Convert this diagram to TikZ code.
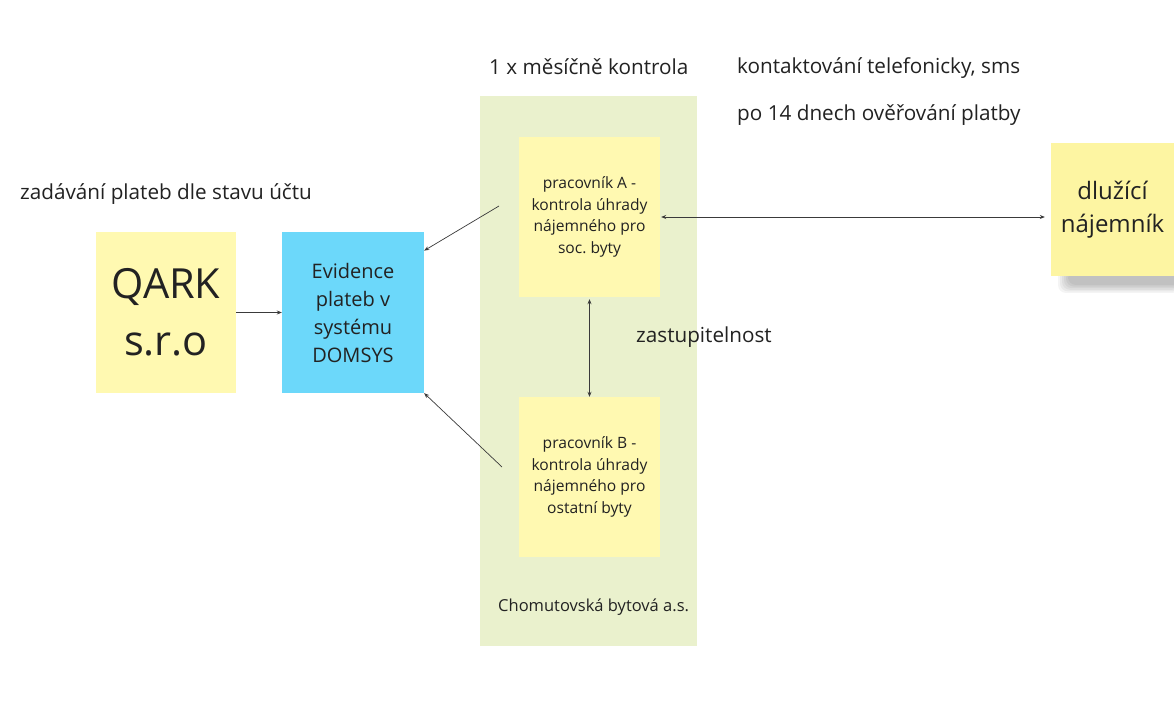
\documentclass[tikz,border=0pt]{standalone}
\usepackage{fontspec}
\setmainfont{Open Sans}
\usepackage{tikz}
\usetikzlibrary{arrows.meta}

\definecolor{stickyyellow}{HTML}{FFF9B1}
\definecolor{debtyellow}{HTML}{FDF5A2}
\definecolor{domsysblue}{HTML}{6CD8FA}
\definecolor{frmgreen}{HTML}{EAF1CD}
\definecolor{inktext}{HTML}{222222}
\definecolor{inkline}{HTML}{3A3A3A}
\frenchspacing

\begin{document}
\begin{tikzpicture}[x=1pt,y=-1pt,
    every node/.style={text=inktext},
    note/.style={fill=stickyyellow,inner sep=0pt,align=center},
    lbl/.style={anchor=west,inner sep=0pt,font=\fontsize{20.7}{24}\selectfont},
    conn/.style={draw=inkline,line width=0.7pt,-{Stealth[length=5pt,width=4pt]}},
    both/.style={conn,{Stealth[length=5pt,width=4pt]}-{Stealth[length=5pt,width=4pt]}}]
    \useasboundingbox[fill=white] (0,0) rectangle (1174,708);
    % company frame
    \node[fill=frmgreen,minimum width=217pt,minimum height=550pt,inner sep=0pt] (cb) at (588.5,371) {};
    \node[lbl,font=\fontsize{16.5}{19}\selectfont] (cbname) at (498,607) {Chomutovská bytová a.s.};
    % boxes
    \node[note,minimum width=140pt,minimum height=161pt,
      font=\fontsize{41.5}{57}\selectfont] (qark) at (166,312.5) {QARK\\s.r.o};
    \node[note,fill=domsysblue,minimum width=142pt,minimum height=161pt,
      font=\fontsize{20}{28}\selectfont] (evid) at (353,312.5) {Evidence\\plateb v\\systému\\DOMSYS};
    \node[note,minimum width=141pt,minimum height=160pt,
      font=\fontsize{15.6}{21.7}\selectfont] (wa) at (589.5,217) {pracovník A -\\kontrola úhrady\\nájemného pro\\soc. byty};
    \node[note,minimum width=141pt,minimum height=160pt,
      font=\fontsize{15.6}{21.7}\selectfont] (wb) at (589.5,477) {pracovník B -\\kontrola úhrady\\nájemného pro\\ostatní byty};
    % debtor sticky with soft shadow
    \foreach \i in {0,...,5}
      \fill[black,opacity=0.045,rounded corners=8pt] (1058+2*\i,266+\i) rectangle (1180,293-1.6*\i);
    \node[note,fill=debtyellow,minimum width=123pt,minimum height=133pt,
      font=\fontsize{24}{33}\selectfont] (dluh) at (1112.5,209.5) {dlužící\\nájemník};
    % labels
    \node[lbl] (zad) at (20,194) {zadávání plateb dle stavu účtu};
    \node[lbl] (mes) at (489,67) {1 x měsíčně kontrola};
    \node[lbl] (kont) at (737,68) {kontaktování telefonicky, sms};
    \node[lbl] (po14) at (737,115) {po 14 dnech ověřování platby};
    \node[lbl] (zast) at (636,337) {zastupitelnost};
    % connectors
    \coordinate (aout) at (499,206);
    \coordinate (bout) at (502,467);
    \draw[conn] (qark) -- (evid);
    \draw[conn] (aout) -- (evid.41);
    \draw[conn] (bout) -- (evid.south east);
    \draw[both,shorten <=2pt] (wa.south) -- (wb.north);
    \draw[both,shorten >=6pt,shorten <=1pt] (wa.east) -- (wa.east -| dluh.west);
\end{tikzpicture}
\end{document}
